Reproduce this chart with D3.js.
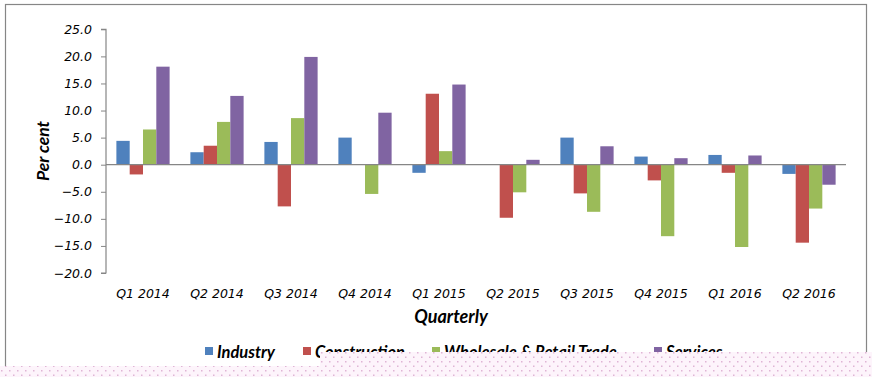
<!DOCTYPE html>
<html><head><meta charset="utf-8">
<script src="https://cdn.jsdelivr.net/npm/d3@7"></script>
<style>html,body{margin:0;padding:0;background:#fff;overflow:hidden}</style>
</head><body>
<svg id="c" width="872" height="377"></svg>
<script>
const categories = ["Q1 2014","Q2 2014","Q3 2014","Q4 2014","Q1 2015","Q2 2015","Q3 2015","Q4 2015","Q1 2016","Q2 2016"];
const seriesNames = ["Industry","Construction","Wholesale & Retail Trade","Services"];
const industry     = [4.4, 2.3, 4.2, 5.0, -1.5, 0.0, 5.0, 1.5, 1.8, -1.7];
const construction = [-1.8, 3.5, -7.7, 0.0, 13.1, -9.8, -5.3, -2.9, -1.5, -14.4];
const wholesale    = [6.5, 7.9, 8.6, -5.4, 2.5, -5.1, -8.7, -13.2, -15.2, -8.1];
const services     = [18.1, 12.7, 19.9, 9.6, 14.8, 0.9, 3.4, 1.2, 1.7, -3.7];
const yTicks = [25, 20, 15, 10, 5, 0, -5, -10, -15, -20];
const colors = ["#4F81BD","#C0504D","#9BBB59","#8064A2"];
const seriesValues = [industry, construction, wholesale, services];

const svg = d3.select("#c");
// chart frame
svg.append("rect").attr("x",5.5).attr("y",4.5).attr("width",861).attr("height",370)
  .attr("fill","#fff").attr("stroke","#868686").attr("stroke-width",1.2);

const x0 = d3.scaleBand().domain(categories).range([106,846]).paddingInner(0).paddingOuter(0);
const x1 = d3.scaleBand().domain(seriesNames).range([0,x0.bandwidth()]).paddingInner(0).paddingOuter(0.78);
const y = d3.scaleLinear().domain([-20,25]).range([273,29.3]);

const tickFont = "'DejaVu Sans', Verdana, sans-serif";
const titleFont = "Lato, 'Open Sans', sans-serif";

// bars
const g = svg.append("g");
seriesNames.forEach((s,si)=>{
  g.selectAll(null).data(categories.map((c,i)=>({c, v:seriesValues[si][i]})))
    .enter().append("rect")
    .attr("x", d=>x0(d.c)+x1(s))
    .attr("width", x1.bandwidth())
    .attr("y", d=>y(Math.max(0,d.v)))
    .attr("height", d=>Math.abs(y(d.v)-y(0)))
    .attr("fill", colors[si]);
});

// zero line
svg.append("line").attr("x1",106).attr("x2",846).attr("y1",y(0)).attr("y2",y(0))
  .attr("stroke","#868686").attr("stroke-width",1.2);

// y axis
const yAxis = d3.axisLeft(y).tickValues(yTicks).tickSize(5).tickPadding(9)
  .tickFormat(d=>d3.format(".1f")(d));
const ya = svg.append("g").attr("transform","translate(106,0)").call(yAxis);
ya.select(".domain").attr("stroke","#868686").attr("stroke-width",1.2)
  .attr("d",`M-5,${y(25)}H0V${y(-20)}H-5`);
ya.selectAll(".tick line").attr("stroke","#868686");
ya.selectAll(".tick text").attr("font-family",tickFont).attr("font-style","italic")
  .attr("font-size","12.5px").attr("fill","#000");

// x labels
svg.append("g").selectAll("text").data(categories).enter().append("text")
  .attr("x", d=>x0(d)+x0.bandwidth()/2).attr("y",298)
  .attr("text-anchor","middle").attr("font-family",tickFont).attr("font-style","italic")
  .attr("font-size","12.5px").attr("fill","#000").text(d=>d);

// axis titles
svg.append("text").attr("x",451).attr("y",323).attr("text-anchor","middle")
  .attr("font-family",titleFont).attr("font-weight","bold").attr("font-style","italic")
  .attr("font-size","18px").text("Quarterly");
svg.append("text").attr("transform","translate(49,151) rotate(-90)").attr("text-anchor","middle")
  .attr("font-family",titleFont).attr("font-weight","bold").attr("font-style","italic")
  .attr("font-size","17.5px").text("Per cent");

// legend
const legX = [205, 303, 432, 654];
const leg = svg.append("g");
seriesNames.forEach((s,i)=>{
  leg.append("rect").attr("x",legX[i]).attr("y",347).attr("width",8).attr("height",8).attr("fill",colors[i]);
  leg.append("text").attr("x",legX[i]+12).attr("y",357.5)
    .attr("font-family",titleFont).attr("font-weight","bold").attr("font-style","italic")
    .attr("font-size","16.5px").text(s);
});

// pink dotted overlay at bottom
const defs = svg.append("defs");
const pat = defs.append("pattern").attr("id","dots").attr("patternUnits","userSpaceOnUse")
  .attr("width",8).attr("height",9);
pat.append("rect").attr("width",8).attr("height",9).attr("fill","#fdf4fb");
pat.append("rect").attr("x",1).attr("y",1).attr("width",1.5).attr("height",1.5).attr("fill","#dfb5d5");
pat.append("rect").attr("x",5).attr("y",5.5).attr("width",1.5).attr("height",1.5).attr("fill","#dfb5d5");
svg.append("path").attr("d","M0,366H320V352H872V377H0Z").attr("fill","url(#dots)");
</script>
</body></html>
